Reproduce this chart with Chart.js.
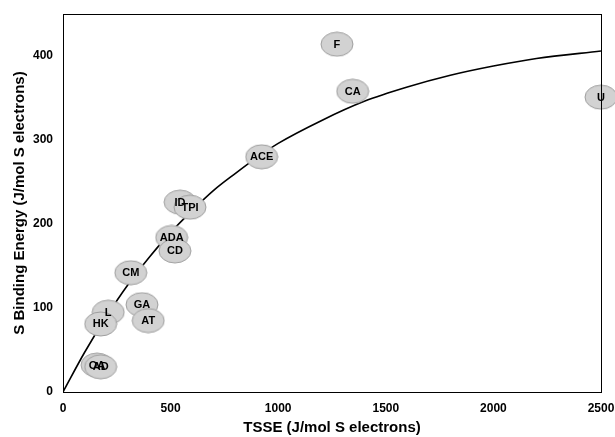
<!DOCTYPE html>
<html>
<head>
<meta charset="utf-8">
<script src="https://cdn.jsdelivr.net/npm/chart.js@4"></script>
<style>
  html, body { margin: 0; padding: 0; background: #fff; }
  #wrap { width: 615px; height: 437px; }
</style>
</head>
<body>
<div id="wrap"><canvas id="chart"></canvas></div>
<script>
// =========================
// DATA
// =========================

const enzymeNames = ["F", "CA", "U", "ACE", "ID", "TPI", "ADA", "CD", "CM", "GA", "AT", "L", "HK", "OA", "AD"];
const tsseValues  = [1273, 1346, 2500, 923, 544, 590, 505, 520, 315, 367, 396, 210, 175, 158, 175];
const bindingValues = [414, 358, 351, 280, 226, 220, 184, 168, 142, 104, 85, 95, 81, 32, 30];

// fitted curve
const curveX = [0, 100, 200, 300, 400, 500, 600, 700, 800, 900, 1000, 1200, 1400, 1600, 1800, 2000, 2200, 2500];
const curveY = [0, 47, 89, 127, 160, 190, 216, 240, 260, 279, 296, 323, 346, 363, 377, 388, 397, 406];

const xTicks = [0, 500, 1000, 1500, 2000, 2500];
const yTicks = [0, 100, 200, 300, 400];

const fontFamily = "'Liberation Sans', Arial, sans-serif";

// =========================
// BADGE (grey ellipse)
// =========================

function makeBadge() {
    const c = document.createElement("canvas");
    c.width = 34;
    c.height = 26;
    const g = c.getContext("2d");
    g.beginPath();
    g.ellipse(17, 13, 16, 12, 0, 0, Math.PI * 2);
    g.fillStyle = "#d2d2d2";
    g.fill();
    g.lineWidth = 1;
    g.strokeStyle = "#9e9e9e";
    g.stroke();
    return c;
}

const badge = makeBadge();

// labels on top of all the ellipses
const badgeLabels = {
    id: "badgeLabels",
    afterDatasetsDraw(chart) {
        const meta = chart.getDatasetMeta(0);
        const ctx = chart.ctx;
        ctx.save();
        ctx.fillStyle = "#000";
        ctx.font = "bold 11px " + fontFamily;
        ctx.textAlign = "center";
        ctx.textBaseline = "middle";
        meta.data.forEach((pt, i) => {
            ctx.fillText(enzymeNames[i], pt.x, pt.y + 0.5);
        });
        ctx.restore();
    }
};

// box round the plot
const frame = {
    id: "frame",
    afterDraw(chart) {
        const a = chart.chartArea;
        const ctx = chart.ctx;
        ctx.save();
        ctx.strokeStyle = "#000";
        ctx.lineWidth = 1;
        ctx.strokeRect(Math.round(a.left) + 0.5, Math.round(a.top) + 0.5,
            Math.round(a.right - a.left), Math.round(a.bottom - a.top));
        ctx.restore();
    }
};

// =========================
// CHART
// =========================

const bold = { family: fontFamily, weight: "bold" };

new Chart(document.getElementById("chart"), {
    type: "scatter",
    data: {
        datasets: [
            {
                label: "enzymes",
                data: tsseValues.map((x, i) => ({ x: x, y: bindingValues[i] })),
                pointStyle: badge,
                clip: false,
                order: 0
            },
            {
                label: "fit",
                type: "line",
                data: curveX.map((x, i) => ({ x: x, y: curveY[i] })),
                borderColor: "#000",
                borderWidth: 1.6,
                pointRadius: 0,
                cubicInterpolationMode: "monotone",
                fill: false,
                order: 1
            }
        ]
    },
    options: {
        responsive: true,
        maintainAspectRatio: false,
        animation: false,
        layout: { padding: { top: 14, right: 14, left: 0, bottom: 0 } },
        plugins: {
            legend: { display: false },
            tooltip: { enabled: false }
        },
        scales: {
            x: {
                type: "linear",
                min: 0,
                max: 2500,
                afterBuildTicks: axis => { axis.ticks = xTicks.map(v => ({ value: v })); },
                afterFit: axis => {
                    axis.height = 45;
                    axis.paddingLeft = 0;
                    axis.paddingRight = 0;
                },
                grid: { display: false, drawTicks: false },
                border: { display: false },
                ticks: { color: "#000", font: { ...bold, size: 12 }, padding: 9, maxRotation: 0, callback: v => String(v) },
                title: {
                    display: true,
                    text: "TSSE (J/mol S electrons)",
                    color: "#000",
                    font: { ...bold, size: 15 },
                    padding: { top: 0, bottom: 0 }
                }
            },
            y: {
                min: 0,
                max: 450,
                afterBuildTicks: axis => { axis.ticks = yTicks.map(v => ({ value: v })); },
                afterFit: axis => {
                    axis.width = 63;
                    axis.paddingTop = 0;
                    axis.paddingBottom = 0;
                },
                grid: { display: false, drawTicks: false },
                border: { display: false },
                ticks: { color: "#000", font: { ...bold, size: 12 }, padding: 10, callback: v => String(v) },
                title: {
                    display: true,
                    text: "S Binding Energy (J/mol S electrons)",
                    color: "#000",
                    font: { ...bold, size: 15 },
                    padding: { top: 11, bottom: 0 }
                }
            }
        }
    },
    plugins: [badgeLabels, frame]
});
</script>
</body>
</html>
